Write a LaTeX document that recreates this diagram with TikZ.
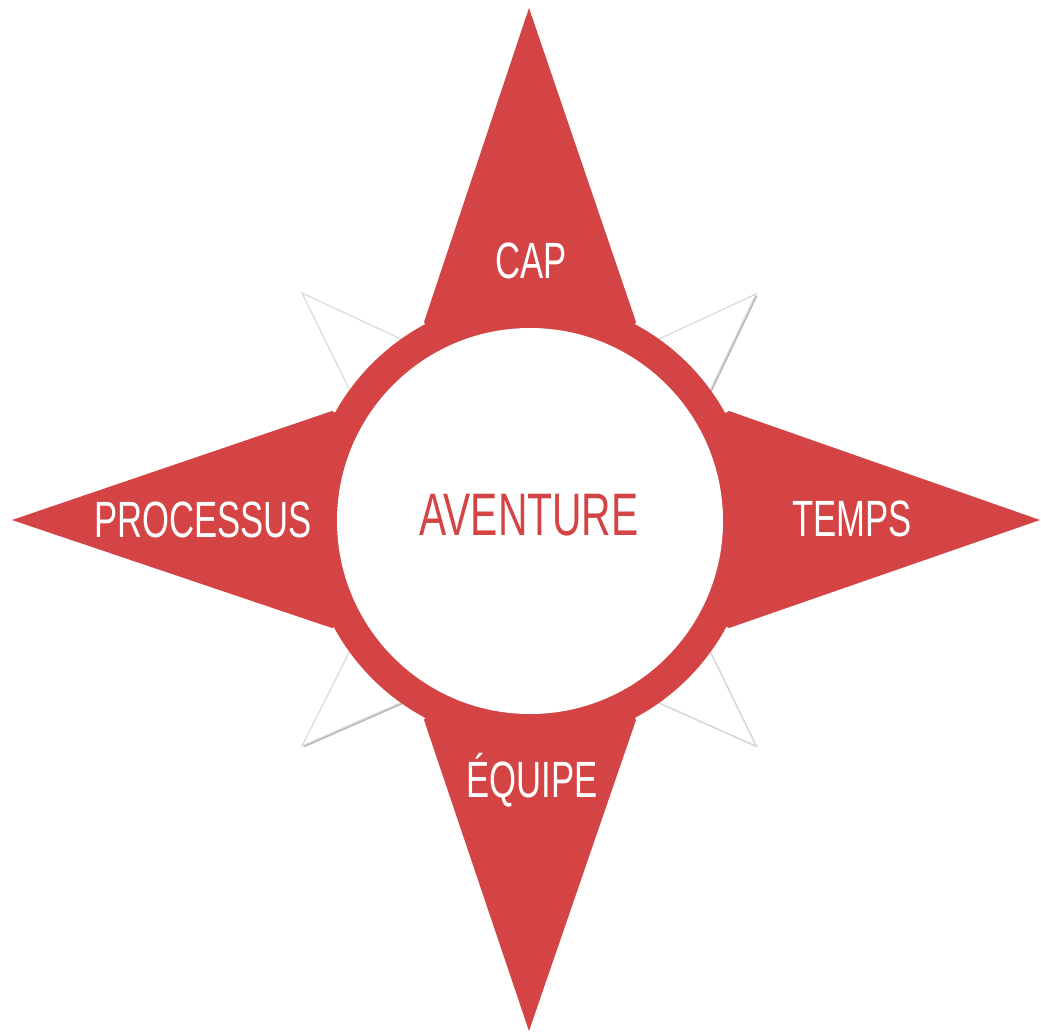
\documentclass[tikz,border=0pt]{standalone}
\usepackage{fontspec}
\newfontfamily\labfont[FakeStretch=0.68]{Liberation Sans}
\usetikzlibrary{shadows}
\definecolor{compred}{RGB}{212,68,68}
\definecolor{edgegray}{RGB}{218,218,218}
\tikzset{
  spike/.style={fill=compred, draw=none},
  minor/.style={fill=white, draw=edgegray, line width=1.2pt, line join=miter,
    drop shadow={shadow xshift=1.6pt, shadow yshift=-1.6pt, opacity=0.4, fill=black!70}},
  lab/.style={font=\labfont\fontsize{51}{51}\selectfont, text=white, anchor=base, inner sep=0pt},
  centerlab/.style={font=\labfont\fontsize{60}{60}\selectfont, text=compred, anchor=base, inner sep=0pt}
}
\begin{document}
\begin{tikzpicture}[x=1pt,y=-1pt]
\useasboundingbox (0,0) rectangle (1041,1034);
\coordinate (c) at (530,521);
% diagonal minor points
\path[minor] (302,293) -- (416,346) -- (c) -- (356,403) -- cycle;
\path[minor] (756,294) -- (704,403) -- (c) -- (644,346) -- cycle;
\path[minor] (302,746) -- (356,639) -- (c) -- (416,696) -- cycle;
\path[minor] (756,746) -- (644,696) -- (c) -- (704,639) -- cycle;
% red ring
\fill[compred] (c) circle[radius=223pt];
% main spikes
\path[spike] (529,8) -- (636,322) -- (c) -- (424,322) -- cycle;
\path[spike] (529,1031) -- (424,720) -- (c) -- (636,720) -- cycle;
\path[spike] (12,520) -- (332,411) -- (c) -- (332,628) -- cycle;
\path[spike] (1040,520) -- (729,411) -- (c) -- (729,628) -- cycle;
% inner white disc
\fill[white] (c) circle[radius=193pt];
% labels
\node[lab] (cap) at (531,278) {CAP};
\node[lab] (equipe) at (532,797) {ÉQUIPE};
\node[lab] (processus) at (203,537) {PROCESSUS};
\node[lab] (temps) at (852,536) {TEMPS};
\node[centerlab] (aventure) at (529,535) {AVENTURE};
\end{tikzpicture}
\end{document}
